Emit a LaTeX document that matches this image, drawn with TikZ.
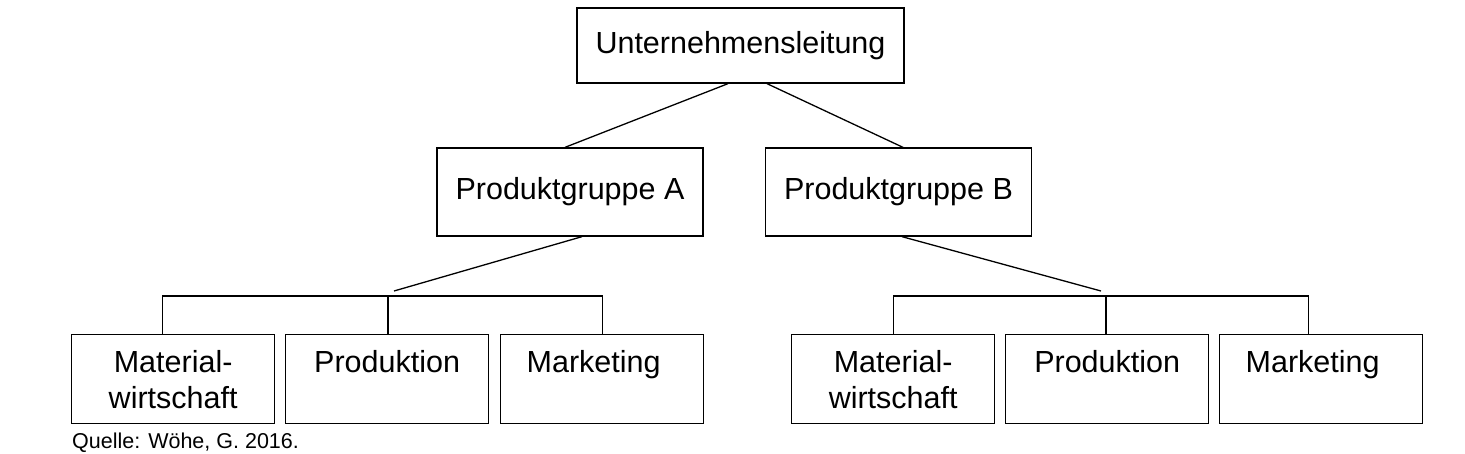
\documentclass[tikz,border=0pt]{standalone}
\usepackage{fontspec}
\setmainfont{Liberation Sans}

\begin{document}
\begin{tikzpicture}[x=1pt,y=-1pt,
    box/.style={draw=black,line width=1.3pt,inner sep=0pt,
                font=\fontsize{30.5}{36}\selectfont},
    unit/.style={draw=black,line width=1.3pt,anchor=north west,
                 inner xsep=26pt,inner ysep=16pt,text width=151pt,align=center,
                 text height=22pt,text depth=35pt,
                 font=\fontsize{30.5}{36}\selectfont},
    link/.style={line width=1.3pt}]

    \useasboundingbox (0,0) rectangle (1465,453);

    % top
    \node[box,minimum width=327pt,minimum height=75pt] (chef) at (740.5,45.5) {Unternehmensleitung};

    % product groups
    \node[box,minimum width=266pt,minimum height=88pt] (pga) at (570,192) {Produktgruppe A};
    \node[box,minimum width=266pt,minimum height=88pt] (pgb) at (898.5,192) {Produktgruppe B};
    \draw[link] ([xshift=-12.5pt]chef.south) -- ([xshift=-5pt]pga.north);
    \draw[link] ([xshift=26.5pt]chef.south) -- ([xshift=4.5pt]pgb.north);

    % functions A
    \node[unit] (mwA) at (71,334) {Material-\\wirtschaft};
    \node[unit] (prA) at (285,334) {Produktion};
    \node[unit,align=left] (mkA) at (500,334) {Marketing};
    \coordinate (barA) at (388,296);
    \coordinate (jA) at (394,291);
    \draw[link] ([xshift=12pt]pga.south) -- (jA);
    \draw[link] ([xshift=-11pt]mwA.north) |- (barA) -| ([xshift=0.5pt]mkA.north);
    \draw[link] (barA) -- (prA.north -| barA);

    % functions B
    \node[unit] (mwB) at (791,334) {Material-\\wirtschaft};
    \node[unit] (prB) at (1005,334) {Produktion};
    \node[unit,align=left] (mkB) at (1219,334) {Marketing};
    \coordinate (barB) at (1106,296);
    \coordinate (jB) at (1101,291);
    \draw[link] ([xshift=3.5pt]pgb.south) -- (jB);
    \draw[link] (mwB.north) |- (barB) -| ([xshift=-13pt]mkB.north);
    \draw[link] (barB) -- (prB.north -| barB);

    % source
    \node[anchor=base west,inner sep=0pt,font=\fontsize{21.5}{25}\selectfont] (src) at (72,448) {Quelle: Wöhe, G. 2016.};
\end{tikzpicture}
\end{document}
